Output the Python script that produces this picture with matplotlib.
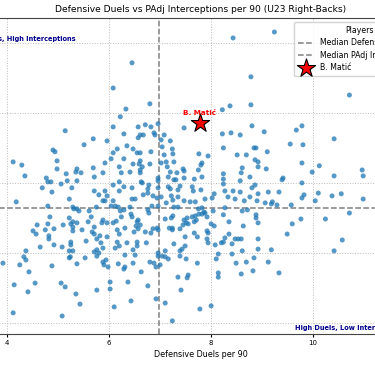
import numpy as np
import matplotlib
matplotlib.use("Agg")
import matplotlib.pyplot as plt

# Defensive duels per 90 (x) and PAdj interceptions per 90 (y)
duels = [
    8.43, 9.24, 6.45, 6.08, 6.80, 6.33, 6.22, 8.78, 10.71, 8.37, 8.78, 8.22,
    6.08, 5.14, 6.29, 5.69, 5.96, 5.51, 4.90, 4.94, 6.16, 6.08, 4.12, 4.29, 4.98, 4.35,
    5.92, 6.04, 6.29, 6.20, 4.98, 5.69, 5.37, 5.35, 5.45, 5.16, 5.88, 6.24, 4.77, 4.80,
    4.86, 5.06, 5.18, 5.37, 5.71, 6.20, 6.08, 6.29, 4.69, 5.27, 4.88, 5.71, 5.92, 6.20,
    5.80, 5.96, 5.22, 5.88, 5.92, 6.08, 4.18, 4.80, 5.29, 5.31, 5.37, 5.41, 5.61, 5.75,
    6.04, 6.12, 6.18, 6.29, 6.22,
    6.57, 6.71, 6.82, 6.96, 7.47, 6.57, 6.61, 6.67, 6.88, 6.90, 7.02, 7.08, 7.20, 8.22,
    8.39, 8.57, 6.35, 6.47, 6.55, 6.61, 6.82, 7.04, 7.24, 7.25, 7.08, 8.24, 7.76, 7.94,
    8.69, 8.51, 6.47, 6.61, 6.59, 6.65, 6.41, 6.61, 6.61, 6.80, 7.02, 7.12, 7.14, 7.27,
    7.20, 7.45, 7.47, 7.33, 7.80, 7.82, 7.75, 8.61, 8.59, 6.63, 6.65, 6.96, 6.96, 7.16,
    7.27, 7.31, 7.47, 7.82, 7.67, 8.24, 8.24, 8.57, 6.45, 6.78, 6.76, 6.96, 7.16, 7.20,
    7.39, 7.35, 7.63, 7.65, 7.80, 8.06, 8.24, 8.27, 8.43, 8.57, 6.45, 6.51, 6.67, 6.76,
    6.86, 6.94, 7.02, 7.22, 7.25, 7.35, 7.47, 7.59, 7.69, 7.88, 8.02, 8.33, 8.47, 8.65,
    6.84, 6.96, 6.41, 7.12, 7.27, 7.35, 7.75, 7.82, 7.86, 8.04, 8.27, 8.61, 8.71, 6.76,
    6.78,
    8.80, 9.04, 9.67, 9.78, 10.41, 9.55, 9.80, 9.10, 8.84, 8.88, 8.86, 8.92, 8.92, 9.08,
    9.78, 10.12, 9.98, 9.41, 9.78, 10.41, 10.96, 10.98, 8.76, 8.86, 8.80, 9.12, 9.33,
    9.39, 10.10, 9.78, 9.82, 10.37, 10.55, 10.98, 10.04, 8.90, 9.06, 9.18, 9.20, 9.29,
    9.57, 8.76, 8.92,
    4.84, 5.22, 5.29, 5.65, 5.88, 5.96, 5.86, 6.08, 6.14, 6.24, 4.59, 4.80, 5.10, 5.25,
    5.29, 5.37, 5.59, 5.71, 4.51, 4.57, 4.75, 4.92, 5.29, 5.47, 5.67, 5.71, 5.82, 5.96,
    6.16, 6.20, 4.82, 4.82, 5.76, 5.84, 5.55, 5.25, 5.25, 4.65, 4.92, 5.08, 6.16, 6.20,
    6.12, 5.76, 5.71, 5.80, 5.88, 4.37, 5.22, 5.29, 4.33, 4.37, 5.24, 5.22, 5.53, 5.76,
    5.88, 5.94, 3.92, 4.25, 5.37, 5.90, 5.98, 6.18, 4.88, 6.29, 4.43, 5.06, 5.14, 4.55,
    4.14, 4.41, 6.02, 6.02, 5.76, 5.35, 5.43, 6.10,
    6.43, 6.45, 6.57, 6.61, 6.53, 6.55, 6.31, 6.49, 6.57, 6.71, 6.82, 6.86, 6.94, 6.96,
    7.10, 7.22, 7.25, 7.18, 7.24, 7.24, 7.39, 7.45, 7.51, 7.55, 7.53, 7.47, 7.63, 7.69,
    7.71, 7.67, 7.76, 7.82, 7.88, 7.92, 8.00, 8.06, 8.24, 8.35, 8.63, 7.49, 7.67, 7.73,
    7.92, 7.94, 7.92, 7.94, 8.08, 8.20, 8.24, 8.27, 8.35, 8.41, 8.47, 8.53, 8.59, 6.35,
    6.55, 6.55, 6.73, 7.27, 7.49, 7.43, 7.39, 7.39, 7.10, 7.04, 6.47, 6.51, 6.31, 6.96,
    6.96, 6.80, 6.88, 7.10, 7.16, 7.51, 7.00, 6.92, 6.47, 6.31, 6.63, 7.73, 8.10, 8.14,
    8.61, 8.41, 8.49, 8.69, 8.14, 8.14, 8.59, 7.55, 7.53, 7.35, 6.37, 6.76, 7.41, 6.92,
    6.43, 7.10, 7.78, 8.00,
    10.71, 10.24, 9.76, 9.59, 9.49, 10.57, 10.41, 9.18, 8.92, 8.92, 8.88, 8.92, 8.88,
    9.12, 9.33, 8.84, 8.82,
    4.12, 5.08, 7.24,
]
interceptions = [
    10.14, 10.31, 9.43, 8.71, 8.26, 8.11, 7.89, 9.03, 8.51, 8.20, 8.23, 8.09,
    7.60, 7.49, 7.40, 7.26, 7.20, 7.09, 6.94, 6.89, 6.97, 6.86, 6.60, 6.51, 6.63, 6.20,
    6.57, 6.69, 6.69, 6.46, 6.40, 6.43, 6.40, 6.31, 6.29, 6.26, 6.29, 6.29, 6.14, 6.03,
    6.03, 5.97, 6.06, 6.06, 6.17, 6.03, 5.94, 5.89, 5.86, 5.86, 5.74, 5.77, 5.77, 5.77,
    5.66, 5.63, 5.54, 5.49, 5.49, 5.49, 5.46, 5.34, 5.31, 5.26, 5.26, 5.20, 5.20, 5.31,
    5.34, 5.34, 5.31, 5.23, 5.20,
    7.60, 7.66, 7.60, 7.69, 7.57, 7.29, 7.37, 7.37, 7.43, 7.37, 7.23, 7.37, 7.20, 7.40,
    7.43, 7.37, 7.06, 6.97, 6.86, 6.86, 6.89, 7.03, 6.97, 6.83, 6.80, 7.00, 6.83, 6.77,
    6.80, 6.80, 6.54, 6.63, 6.54, 6.46, 6.31, 6.37, 6.29, 6.54, 6.57, 6.60, 6.46, 6.60,
    6.31, 6.40, 6.34, 6.29, 6.51, 6.57, 6.37, 6.43, 6.29, 6.03, 6.00, 6.14, 6.06, 6.17,
    6.09, 6.09, 6.14, 6.17, 6.11, 6.26, 6.11, 6.06, 5.86, 5.94, 5.83, 5.86, 5.89, 5.83,
    5.91, 5.80, 5.89, 5.77, 5.80, 5.69, 5.97, 5.77, 5.77, 5.74, 5.54, 5.54, 5.66, 5.71,
    5.63, 5.57, 5.60, 5.63, 5.51, 5.60, 5.49, 5.46, 5.46, 5.54, 5.57, 5.60, 5.54, 5.49,
    5.34, 5.34, 5.31, 5.43, 5.31, 5.31, 5.26, 5.29, 5.17, 5.20, 5.29, 5.20, 5.23, 5.23,
    5.14,
    7.63, 7.46, 7.51, 7.63, 7.26, 7.11, 7.09, 6.89, 7.00, 7.00, 6.66, 6.60, 6.46, 6.40,
    6.57, 6.49, 6.31, 6.14, 6.00, 6.20, 6.37, 6.20, 6.17, 5.94, 5.86, 5.74, 5.74,
    6.09, 5.71, 5.57, 5.66, 5.63, 5.69, 5.54, 5.49, 5.49, 5.43, 5.40, 5.46, 5.37,
    5.37, 5.60, 5.69,
    5.03, 5.00, 4.89, 5.03, 4.94, 4.86, 4.86, 4.86, 4.91, 5.03, 4.80, 4.83, 4.80, 4.83,
    4.74, 4.86, 4.89, 4.74, 4.63, 4.54, 4.66, 4.69, 4.63, 4.66, 4.60, 4.54, 4.49, 4.46,
    4.66, 4.54, 4.49, 4.40, 4.40, 4.29, 4.34, 4.31, 4.23, 4.17, 4.23, 4.17, 4.31, 4.20,
    4.14, 4.09, 4.03, 4.00, 4.14, 4.06, 4.06, 4.06, 3.89, 3.80, 3.89, 3.86, 3.86, 3.91,
    3.74, 3.80, 3.71, 3.66, 3.69, 3.66, 3.60, 3.69, 3.63, 3.54, 3.46, 3.14, 3.03, 3.14,
    3.09, 2.89, 3.17, 2.97, 2.94, 2.83, 2.54, 2.46,
    5.11, 5.03, 4.94, 4.80, 4.77, 4.89, 4.71, 4.60, 4.69, 4.60, 4.57, 4.69, 4.71, 4.66,
    4.97, 5.00, 5.06, 4.71, 4.71, 4.66, 4.69, 4.80, 4.86, 4.83, 5.00, 4.94, 5.03, 5.06,
    4.94, 4.89, 5.11, 5.11, 5.14, 5.03, 4.83, 4.77, 5.09, 4.89, 4.77, 4.46, 4.57, 4.46,
    4.63, 4.57, 4.40, 4.29, 4.23, 4.29, 4.31, 4.43, 4.54, 4.26, 4.40, 4.40, 4.40, 4.29,
    4.31, 4.20, 4.29, 4.26, 4.20, 4.11, 4.06, 3.91, 4.06, 3.91, 4.09, 3.94, 3.94, 4.00,
    3.91, 3.74, 3.71, 3.89, 3.83, 3.83, 3.66, 3.60, 3.71, 3.60, 3.46, 3.71, 3.83, 3.97,
    4.06, 3.97, 3.71, 3.74, 3.43, 3.31, 3.40, 3.37, 3.29, 3.31, 3.17, 3.06, 2.94, 2.69,
    2.63, 2.57, 2.40, 2.49,
    5.14, 4.97, 4.97, 4.83, 4.54, 4.37, 4.06, 4.09, 4.40, 4.11, 5.00, 4.86, 5.09,
    3.74, 3.43, 3.86, 3.49,
    2.29, 2.20, 2.06,
]

highlight_name = "B. Matić"
highlight_x = 7.78
highlight_y = 7.71

median_duels = 6.98
median_interceptions = 5.29

fig = plt.figure(figsize=(3.75, 3.66), dpi=100)
# axes is wider than the picture (the original is a crop)
ax = fig.add_axes([-27 / 375, 1 - 334 / 366, 456 / 375, 316 / 366])

ax.scatter(duels, interceptions, s=13, color="#1f77b4", alpha=0.75,
           edgecolors="none", zorder=2)

ax.axvline(median_duels, color="gray", linestyle="--", linewidth=1.1,
           label="Median Defensive Duels", zorder=1)
ax.axhline(median_interceptions, color="gray", linestyle="--", linewidth=1.1,
           label="Median PAdj Interceptions", zorder=1)

ax.scatter([highlight_x], [highlight_y], s=190, marker="*", color="red",
           edgecolors="black", linewidths=0.8, label=highlight_name, zorder=4)
ax.text(highlight_x, highlight_y + 0.2, highlight_name, color="red",
        fontsize=5.2, fontweight="bold", ha="center", va="bottom", zorder=5)

ax.text(-0.02, 0.935, "Low Duels, High Interceptions", transform=ax.transAxes,
        fontsize=4.8, fontweight="bold", color="darkblue", ha="left", va="center")
ax.text(0.95, 0.02, "High Duels, Low Interceptions", transform=ax.transAxes,
        fontsize=4.8, fontweight="bold", color="darkblue", ha="right", va="center")

ax.set_xlim(3.333, 12.27)
ax.set_ylim(1.686, 10.71)
ax.set_xticks([4, 6, 8, 10, 12])
ax.set_yticks([2, 4, 6, 8, 10])
ax.tick_params(labelsize=5, length=2, pad=2)
ax.grid(True, linestyle=":", color="#bbbbbb", linewidth=0.7)
ax.set_axisbelow(True)
for sp in ax.spines.values():
    sp.set_linewidth(0.8)
    sp.set_color("#444444")

ax.set_xlabel("Defensive Duels per 90", fontsize=5.8, labelpad=3)
ax.set_title("Defensive Duels vs PAdj Interceptions per 90 (U23 Right-Backs)",
             fontsize=6.6, pad=4)

leg = ax.legend(loc="upper right", title="Players", fontsize=5.6, title_fontsize=5.6,
                framealpha=0.85, borderpad=0.5, markerscale=1.0, labelspacing=0.45)

fig.savefig("out.png", dpi=100)
